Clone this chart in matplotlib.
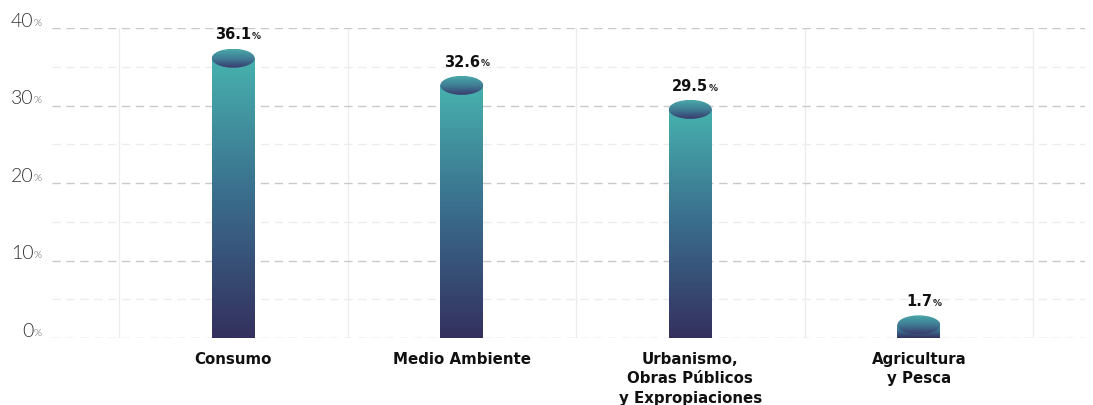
import numpy as np
import matplotlib.pyplot as plt
from matplotlib.colors import LinearSegmentedColormap
from matplotlib.patches import Rectangle, Ellipse

categories = ["Consumo", "Medio Ambiente", "Urbanismo,\nObras Públicos\ny Expropiaciones", "Agricultura\ny Pesca"]
values = [36.1, 32.6, 29.5, 1.7]
yticks = [0, 10, 20, 30, 40]

body_cmap = LinearSegmentedColormap.from_list("body", ["#34305e", "#3a6c8c", "#47b1ae"])
cap_cmap = LinearSegmentedColormap.from_list("cap", ["#383a6c", "#3f7d95", "#4aa9aa"])

fig = plt.figure(figsize=(10.93, 4.05), dpi=100)
ax = fig.add_axes([52 / 1093, 67 / 405, 1033 / 1093, 310 / 405])
ax.set_xlim(-0.793, 3.727)
ax.set_ylim(0, 40)
ax.axis("off")

# gridlines
for y in range(0, 41, 5):
    major = y % 10 == 0
    ax.axhline(y, color="#c9c9c9" if major else "#ececec", lw=1.0,
               dashes=(6, 4), zorder=1)
for b in np.arange(-0.5, 4, 1):
    ax.plot([b, b], [0, 40], color="#ececec", lw=0.9, zorder=0)

w = 0.188
cap_h = 2.45
grad = np.linspace(0, 1, 256).reshape(-1, 1)
for i, v in enumerate(values):
    rect = Rectangle((i - w / 2, 0), w, v, transform=ax.transData, facecolor="none", edgecolor="none")
    ax.add_patch(rect)
    im = ax.imshow(grad, cmap=body_cmap, origin="lower", aspect="auto",
                   extent=[i - w / 2, i + w / 2, 0, v], zorder=2)
    im.set_clip_path(rect)
    ell = Ellipse((i, v), w, cap_h, facecolor="none", edgecolor="none")
    ax.add_patch(ell)
    im2 = ax.imshow(grad, cmap=cap_cmap, origin="lower", aspect="auto",
                    extent=[i - w / 2, i + w / 2, v - cap_h / 2, v + cap_h / 2], zorder=3)
    im2.set_clip_path(ell)

    num = ax.annotate(f"{v}", (i, v), xytext=(0, 13.5), textcoords="offset points",
                      ha="center", va="baseline", fontsize=10.5, fontweight="bold", color="#111111")
    ax.annotate("%", (1, 0), xycoords=num, xytext=(0.5, 0.8), textcoords="offset points",
                ha="left", va="bottom", fontsize=6.5, fontweight="bold", color="#222222")
    ax.annotate(categories[i], (i, 0), xytext=(0, -10), textcoords="offset points",
                ha="center", va="top", fontsize=10.8, fontweight="bold", color="#111111",
                linespacing=1.38, annotation_clip=False)

ax.set_xlim(-0.793, 3.727)
ax.set_ylim(0, 40)

for t in yticks:
    tl = ax.annotate(f"{t}", (0, t), xycoords=("axes fraction", "data"), xytext=(-13.5, 1),
                     textcoords="offset points", ha="right", va="baseline",
                     fontsize=14, family="Lato", fontweight=300, color="#333333",
                     annotation_clip=False)
    ax.annotate("%", (1, 0), xycoords=tl, xytext=(0.3, 1.2), textcoords="offset points",
                ha="left", va="bottom",
                fontsize=7.5, family="Lato", fontweight=300, color="#444444",
                annotation_clip=False)

fig.savefig("out.png", dpi=100)
